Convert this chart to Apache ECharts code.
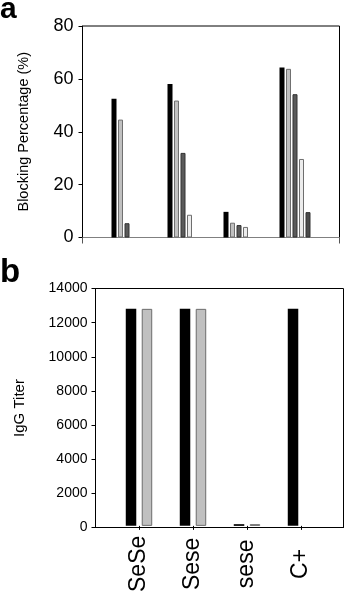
<!DOCTYPE html>
<html>
<head>
<meta charset="utf-8">
<script src="https://cdn.jsdelivr.net/npm/echarts@6/dist/echarts.min.js"></script>
<style>
  html, body { margin: 0; padding: 0; background: #fff; }
  #chart { width: 345px; height: 595px; }
</style>
</head>
<body>
<div id="chart"></div>
<script>
// categories (panel a shares them, but its labels are not shown)
const categories = ['SeSe', 'Sese', 'sese', 'C+'];

// panel a: blocking percentage (%), five series per group
const blockS1 = [52.5, 58.1, 9.7, 64.3];
const blockS2 = [44.6, 51.8, 5.6, 63.8];
const blockS3 = [5.4, 32.0, 4.7, 54.2];
const blockS4 = [null, 8.6, 4.0, 29.7];
const blockS5 = [null, null, null, 9.6];
const blockTicks = [0, 20, 40, 60, 80];

// panel b: IgG titer, two series (no second bar for C+)
const titerS1 = [12800, 12800, 100, 12800];
const titerS2 = [12800, 12800, 100, null];
const titerTicks = [0, 2000, 4000, 6000, 8000, 10000, 12000, 14000];

const FONT = 'Liberation Sans, Arial, sans-serif';

const chart = echarts.init(document.getElementById('chart'), null, { renderer: 'canvas' });

function tickRange(ticks) {
  return { min: ticks[0], max: ticks[ticks.length - 1], interval: ticks[1] - ticks[0] };
}

function frameY(ticks, gridIndex, name, nameGap, nameSize, labelSize, labelMargin) {
  return Object.assign({
    gridIndex: gridIndex,
    type: 'value',
    name: name,
    nameLocation: 'middle',
    nameGap: nameGap,
    nameTextStyle: { fontFamily: FONT, fontSize: nameSize, color: '#000' },
    axisLine: { show: true, lineStyle: { color: '#000', width: 1 } },
    axisTick: { show: true, inside: false, length: 4, lineStyle: { color: '#000' } },
    axisLabel: {
      fontFamily: FONT, fontSize: labelSize, color: '#000', margin: labelMargin,
      formatter: (v) => String(v),
    },
    splitLine: { show: false },
  }, tickRange(ticks));
}

function hiddenY(ticks, gridIndex) {
  return Object.assign({ gridIndex: gridIndex, type: 'value', show: false, splitLine: { show: false } }, tickRange(ticks));
}

// outer frame axis: only the two end ticks / the base line
function frameX(gridIndex, lineColor, showTicks) {
  return {
    gridIndex: gridIndex,
    type: 'category',
    data: ['', ''],
    boundaryGap: false,
    axisLine: { show: true, lineStyle: { color: lineColor, width: 1 } },
    axisTick: { show: showTicks, length: 6, lineStyle: { color: '#555' } },
    axisLabel: { show: false },
    splitLine: { show: false },
  };
}

const barA = (name, data, color, border) => ({
  name: name,
  type: 'bar',
  xAxisIndex: 1,
  yAxisIndex: 1,
  data: data,
  barWidth: 5,
  barGap: '30%',
  itemStyle: { color: color, borderColor: border, borderWidth: border ? 1 : 0 },
});

const barB = (name, data, color, border) => ({
  name: name,
  type: 'bar',
  xAxisIndex: 3,
  yAxisIndex: 3,
  data: data,
  barWidth: 10.5,
  barGap: '52%',
  itemStyle: { color: color, borderColor: border, borderWidth: border ? 1 : 0 },
});

const option = {
  animation: false,
  backgroundColor: '#fff',
  title: [
    { text: 'a', left: 0, top: -5, padding: 0,
      textStyle: { fontFamily: FONT, fontSize: 30, fontWeight: 'bold', color: '#000' } },
    { text: 'b', left: 0, top: 256, padding: 0,
      textStyle: { fontFamily: FONT, fontSize: 33, fontWeight: 'bold', color: '#000' } },
  ],
  grid: [
    { left: 82.5, top: 26, width: 257, height: 211.5, show: true, borderColor: '#000', borderWidth: 1, backgroundColor: 'transparent' },
    { left: 99, top: 26, width: 224, height: 211.5 },
    { left: 95.5, top: 288.5, width: 248, height: 239, show: true, borderColor: '#000', borderWidth: 1, backgroundColor: 'transparent' },
    { left: 112, top: 288.5, width: 216, height: 239 },
  ],
  xAxis: [
    frameX(0, '#808080', true),
    {
      gridIndex: 1, type: 'category', data: categories, show: false,
      axisLine: { show: false }, axisTick: { show: false }, axisLabel: { show: false },
    },
    frameX(2, '#000', false),
    {
      gridIndex: 3, type: 'category', data: categories,
      axisLine: { show: false },
      axisTick: { show: true, alignWithLabel: true, length: 4, lineStyle: { color: '#000' } },
      axisLabel: {
        rotate: 90, fontFamily: FONT, fontSize: 23, color: '#000',
        align: 'center', verticalAlign: 'middle', margin: 38,
      },
    },
  ],
  yAxis: [
    frameY(blockTicks, 0, 'Blocking Percentage (%)', 51, 14.5, 18, 9),
    hiddenY(blockTicks, 1),
    frameY(titerTicks, 2, 'IgG Titer', 68, 15, 14, 8),
    hiddenY(titerTicks, 3),
  ],
  series: [
    barA('Series 1', blockS1, '#000', null),
    barA('Series 2', blockS2, '#c0c0c0', '#707070'),
    barA('Series 3', blockS3, '#5a5a5a', '#333'),
    barA('Series 4', blockS4, '#ececec', '#6e6e6e'),
    barA('Series 5', blockS5, '#4a4a4a', '#333'),
    barB('Series 1', titerS1, '#000', null),
    barB('Series 2', titerS2, '#c0c0c0', '#6c6c6c'),
  ],
};

chart.setOption(option);
</script>
</body>
</html>
